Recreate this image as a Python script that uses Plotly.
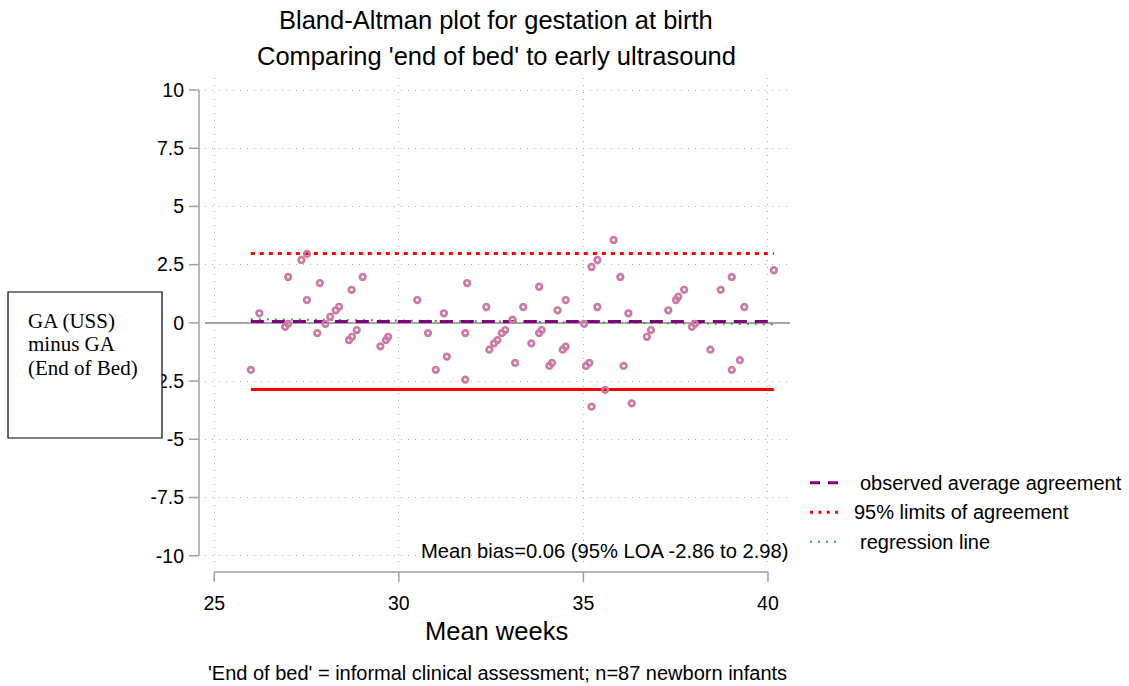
import plotly.graph_objects as go

# ---------------- data ----------------
mean_weeks = [
    27.51, 27.36, 27.00, 27.86, 29.02, 28.72, 27.51, 26.22, 28.38, 28.29,
    28.14, 28.01, 27.00, 26.92, 27.79, 28.86, 28.73, 28.65, 29.50, 25.99,
    29.65, 29.71, 30.50, 30.79, 31.22, 31.30, 31.00, 31.85, 31.80, 31.80,
    32.37, 32.45, 32.58, 32.67, 32.79, 32.88, 33.08, 33.15,
    33.37, 33.59, 33.80, 33.80, 33.87, 34.08, 34.15, 34.30, 34.44, 34.52,
    34.52, 35.02, 35.07, 35.16, 35.22, 35.38, 35.22, 35.38, 35.59, 35.82,
    36.00, 36.09, 36.22, 36.31, 36.72, 36.83,
    37.30, 37.51, 37.57, 37.73, 37.94, 38.02, 38.44, 38.72, 39.02, 39.02,
    39.24, 39.36, 40.16,
]
difference = [
    2.96, 2.70, 1.97, 1.71, 1.97, 1.42, 0.98, 0.41, 0.69, 0.54,
    0.26, -0.04, -0.04, -0.17, -0.44, -0.31, -0.60, -0.74, -1.01, -2.02,
    -0.74, -0.60, 0.98, -0.44, 0.41, -1.45, -2.02, 1.71, -0.44, -2.44,
    0.68, -1.15, -0.88, -0.74, -0.44, -0.31, 0.14, -1.72,
    0.68, -0.88, 1.55, -0.44, -0.31, -1.85, -1.72, 0.54, -1.15, -1.02,
    0.98, -0.04, -1.85, -1.72, 2.40, 2.70, -3.60, 0.68, -2.88, 3.56,
    1.97, -1.85, 0.41, -3.46, -0.60, -0.31,
    0.54, 0.98, 1.12, 1.42, -0.17, -0.04, -1.15, 1.42, 1.97, -2.02,
    -1.60, 0.68, 2.26,
]
mean_bias = 0.06
loa_lower = -2.86
loa_upper = 2.98
line_x = [25.99, 40.16]            # lines span the range of the means
regression_y = [0.16, -0.06]       # regression line at the two ends

x_ticks = [25, 30, 35, 40]
y_ticks = [-10, -7.5, -5, -2.5, 0, 2.5, 5, 7.5, 10]
y_tick_text = ["-10", "-7.5", "-5", "-2.5", "0", "2.5", "5", "7.5", "10"]

title_lines = ["Bland-Altman plot for gestation at birth",
               "Comparing 'end of bed' to early ultrasound"]
y_title_lines = ["GA (USS)", "minus GA", "(End of Bed)"]
x_title = "Mean weeks"
caption = "'End of bed' = informal clinical assessment; n=87 newborn infants"
bias_text = "Mean bias=0.06 (95% LOA -2.86 to 2.98)"
legend_labels = ["observed average agreement", "95% limits of agreement", "regression line"]

# ---------------- styling ----------------
W, H = 1129, 686
L, R, T, B = 205, 790, 78, 565          # plot area in pixels
SANS = "Liberation Sans, Arial, sans-serif"
SERIF = "Liberation Serif, Times New Roman, serif"
PURPLE = "rgb(128,0,128)"
RED = "rgb(255,0,0)"
GREEN = "rgb(60,165,60)"
PINK = "rgb(204,121,167)"
AXIS_GRAY = "rgb(160,160,160)"
GRID = "rgb(175,175,175)"


def px(xp):
    return (xp - L) / (R - L)


def py(yp):
    return (B - yp) / (B - T)


fig = go.Figure()

# reference lines
fig.add_trace(go.Scatter(x=line_x, y=[loa_upper, loa_upper], mode="lines",
                         line=dict(color=RED, width=3, dash="4px,5px"),
                         showlegend=False, hoverinfo="skip"))
fig.add_trace(go.Scatter(x=line_x, y=[loa_lower, loa_lower], mode="lines",
                         line=dict(color=RED, width=3),
                         showlegend=False, hoverinfo="skip"))
fig.add_trace(go.Scatter(x=line_x, y=regression_y, mode="lines",
                         line=dict(color=GREEN, width=2, dash="2px,6px"),
                         showlegend=False, hoverinfo="skip"))
fig.add_trace(go.Scatter(x=line_x, y=[mean_bias, mean_bias], mode="lines",
                         line=dict(color=PURPLE, width=3, dash="13px,8px"),
                         showlegend=False, hoverinfo="skip"))

# data points
fig.add_trace(go.Scatter(x=mean_weeks, y=difference, mode="markers",
                         marker=dict(symbol="circle-open", size=5.6,
                                     color=PINK, line=dict(color=PINK, width=2.7)),
                         showlegend=False))

shapes = []
# y spine and ticks (offset from the plot area, Stata style)
shapes.append(dict(type="line", xref="paper", yref="y", x0=px(199), x1=px(199),
                   y0=y_ticks[0], y1=y_ticks[-1], line=dict(color=AXIS_GRAY, width=1.5),
                   layer="above"))
for v in y_ticks:
    shapes.append(dict(type="line", xref="paper", yref="y", x0=px(189), x1=px(199),
                       y0=v, y1=v, line=dict(color=AXIS_GRAY, width=1.5), layer="above"))
# x spine and ticks
shapes.append(dict(type="line", xref="x", yref="paper", x0=x_ticks[0], x1=x_ticks[-1],
                   y0=py(572), y1=py(572), line=dict(color=AXIS_GRAY, width=1.5),
                   layer="above"))
for v in x_ticks:
    shapes.append(dict(type="line", xref="x", yref="paper", x0=v, x1=v,
                       y0=py(572), y1=py(582), line=dict(color=AXIS_GRAY, width=1.5),
                       layer="above"))

# box holding the y title (covers part of the tick labels, as in the original)
shapes.append(dict(type="rect", xref="paper", yref="paper", x0=px(8), x1=px(162),
                   y0=py(438), y1=py(292), line=dict(color="black", width=1.2),
                   fillcolor="white", layer="above"))

# legend symbols
leg_y = [482.7, 512.3, 541.7]
leg_text_x = [859, 853.3, 859.3]
shapes.append(dict(type="line", xref="paper", yref="paper", x0=px(810), x1=px(838),
                   y0=py(leg_y[0]), y1=py(leg_y[0]),
                   line=dict(color=PURPLE, width=3, dash="10px,8px")))
shapes.append(dict(type="line", xref="paper", yref="paper", x0=px(810), x1=px(838),
                   y0=py(leg_y[1]), y1=py(leg_y[1]),
                   line=dict(color=RED, width=3, dash="3px,5.4px")))
shapes.append(dict(type="line", xref="paper", yref="paper", x0=px(810), x1=px(836),
                   y0=py(leg_y[2]), y1=py(leg_y[2]),
                   line=dict(color=GREEN, width=2, dash="2px,6px")))

annotations = []
# titles
annotations.append(dict(text=title_lines[0], xref="paper", yref="paper", x=px(496), y=py(20),
                        xanchor="center", yanchor="middle", showarrow=False,
                        font=dict(family=SANS, size=25.5, color="black")))
annotations.append(dict(text=title_lines[1], xref="paper", yref="paper", x=px(496), y=py(56),
                        xanchor="center", yanchor="middle", showarrow=False,
                        font=dict(family=SANS, size=25.5, color="black")))
# x title
annotations.append(dict(text=x_title, xref="paper", yref="paper", x=px(496), y=py(631),
                        xanchor="center", yanchor="middle", showarrow=False,
                        font=dict(family=SANS, size=25.5, color="black")))
# caption
annotations.append(dict(text=caption, xref="paper", yref="paper", x=px(497), y=py(673),
                        xanchor="center", yanchor="middle", showarrow=False,
                        font=dict(family=SANS, size=20, color="black")))
# bias note
annotations.append(dict(text=bias_text, xref="paper", yref="paper", x=px(791), y=py(551),
                        xanchor="right", yanchor="middle", showarrow=False,
                        font=dict(family=SANS, size=20.2, color="black")))
# y title lines inside the box
for txt, yy in zip(y_title_lines, [321, 344, 368]):
    annotations.append(dict(text=txt, xref="paper", yref="paper", x=px(26), y=py(yy),
                            xanchor="left", yanchor="middle", showarrow=False,
                            font=dict(family=SERIF, size=21, color="black")))
# legend labels
for txt, xx, yy in zip(legend_labels, leg_text_x, leg_y):
    annotations.append(dict(text=txt, xref="paper", yref="paper", x=px(xx - 1), y=py(yy),
                            xanchor="left", yanchor="middle", showarrow=False,
                            font=dict(family=SANS, size=20, color="black")))

x0_val = x_ticks[0] + (L - 214.3) / 36.91
x1_val = x_ticks[0] + (R - 214.3) / 36.91
y1_val = (322.85 - T) / 23.285
y0_val = (322.85 - B) / 23.285

fig.update_layout(
    width=W, height=H, autosize=False,
    margin=dict(l=L, r=W - R, t=T, b=H - B, pad=0),
    paper_bgcolor="white", plot_bgcolor="white",
    showlegend=False,
    font=dict(family=SANS, color="black"),
    shapes=shapes, annotations=annotations,
    xaxis=dict(range=[x0_val, x1_val], tickvals=x_ticks, ticks="", showline=False,
               showgrid=True, gridcolor=GRID, griddash="1px,6px", gridwidth=1,
               zeroline=False, ticklabelstandoff=24,
               tickfont=dict(family=SANS, size=19.5, color="black")),
    yaxis=dict(range=[y0_val, y1_val], tickvals=y_ticks, ticktext=y_tick_text, ticks="",
               showline=False, showgrid=True, gridcolor=GRID, griddash="1px,6px",
               gridwidth=1, zeroline=True, zerolinecolor="rgb(165,165,165)", zerolinewidth=1.5,
               ticklabelstandoff=20,
               tickfont=dict(family=SANS, size=19.5, color="black")),
)

fig.write_html("out.html")
